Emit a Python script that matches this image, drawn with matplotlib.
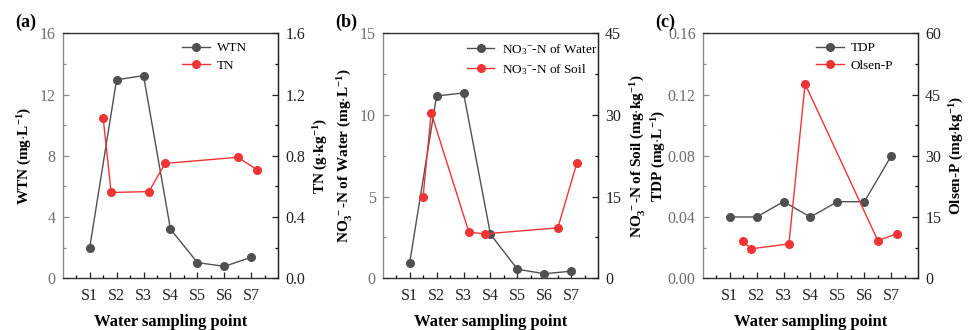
import matplotlib
matplotlib.use("Agg")
import matplotlib.pyplot as plt
from matplotlib.ticker import MultipleLocator, FixedLocator

plt.rcParams["font.family"] = ["Liberation Serif", "DejaVu Serif"]
plt.rcParams["mathtext.fontset"] = "custom"
plt.rcParams["mathtext.rm"] = "Liberation Serif"
plt.rcParams["mathtext.it"] = "Liberation Serif:italic"
plt.rcParams["mathtext.bf"] = "Liberation Serif:bold"

# Sampling sites (water) and soil sampling positions along the same transect
sites = ["S1", "S2", "S3", "S4", "S5", "S6", "S7"]
water_x = [1, 2, 3, 4, 5, 6, 7]
soil_x = [1.5, 1.8, 3.2, 3.8, 6.5, 7.2]

# (a) nitrogen
wtn = [1.96, 12.96, 13.24, 3.2, 1.02, 0.77, 1.37]
tn = [1.05, 0.56, 0.566, 0.75, 0.79, 0.71]

# (b) nitrate nitrogen
no3_water = [0.92, 11.16, 11.35, 2.69, 0.55, 0.27, 0.43]
no3_soil = [15.0, 30.4, 8.45, 8.15, 9.25, 21.1]

# (c) phosphorus
tdp = [0.04, 0.04, 0.05, 0.04, 0.05, 0.05, 0.08]
olsen_p = [9.0, 7.2, 8.4, 47.6, 9.2, 10.9]

GRAY = "#505050"
RED = "#ee3535"
SPINE_GRAY = "#8a8a8a"

panels = [
    dict(tag="(a)", left=wtn, right=tn, lname="WTN", rname="TN",
         llab=r"$\mathbf{WTN\ (mg{\cdot}L^{-1})}$",
         rlab=r"$\mathbf{TN\ (g{\cdot}kg^{-1})}$",
         lmax=16, lstep=4, lfmt="{:.0f}", rmax=1.6, rstep=0.4, rfmt="{:.1f}",
         legx=0.555, lpad=4),
    dict(tag="(b)", left=no3_water, right=no3_soil,
         lname=r"NO$_3$$^{-}$-N of Water", rname=r"NO$_3$$^{-}$-N of Soil",
         llab=r"$\mathbf{NO_3^{\ -}\text{-}N\ of\ Water\ (mg{\cdot}L^{-1})}$",
         rlab=r"$\mathbf{NO_3^{\ -}\text{-}N\ of\ Soil\ (mg{\cdot}kg^{-1})}$",
         lmax=15, lstep=5, lfmt="{:.0f}", rmax=45, rstep=15, rfmt="{:.0f}",
         legx=0.39, lpad=4),
    dict(tag="(c)", left=tdp, right=olsen_p, lname="TDP", rname="Olsen-P",
         llab=r"$\mathbf{TDP\ (mg{\cdot}L^{-1})}$",
         rlab=r"$\mathbf{Olsen\text{-}P\ (mg{\cdot}kg^{-1})}$",
         lmax=0.16, lstep=0.04, lfmt="{:.2f}", rmax=60, rstep=15, rfmt="{:.0f}",
         legx=0.525, lpad=0),
]

fig = plt.figure(figsize=(9.7, 3.3), dpi=100)
lefts = [0.0646, 0.3945, 0.7244]
W, B, H = 0.2223, 0.157, 0.742

for p, lx in zip(panels, lefts):
    ax = fig.add_axes([lx, B, W, H])
    ax2 = ax.twinx()

    l1, = ax.plot(water_x, p["left"], color=GRAY, lw=1.0, marker="o", ms=5.5,
                  label=p["lname"], zorder=3)
    l2, = ax2.plot(soil_x, p["right"], color=RED, lw=1.0, marker="o", ms=5.5,
                   label=p["rname"], zorder=3)

    ax.set_xlim(0, 8)
    ax.set_xticks(water_x)
    ax.set_xticklabels(sites)
    ax.xaxis.set_minor_locator(FixedLocator([0.5 + i for i in range(8)]))

    ax.set_ylim(0, p["lmax"])
    lt = [i * p["lstep"] for i in range(int(round(p["lmax"] / p["lstep"])) + 1)]
    ax.set_yticks(lt)
    ax.set_yticklabels([p["lfmt"].format(v) for v in lt])
    ax.yaxis.set_minor_locator(MultipleLocator(p["lstep"] / 2))

    ax2.set_ylim(0, p["rmax"])
    rt = [i * p["rstep"] for i in range(int(round(p["rmax"] / p["rstep"])) + 1)]
    ax2.set_yticks(rt)
    ax2.set_yticklabels([p["rfmt"].format(v) for v in rt])
    ax2.yaxis.set_minor_locator(MultipleLocator(p["rstep"] / 2))

    for a in (ax, ax2):
        a.tick_params(which="major", direction="in", length=4, width=0.9)
        a.tick_params(which="minor", direction="in", length=2.5, width=0.9)
    ax.tick_params(axis="x", labelsize=11.5, colors="#222222", pad=7)
    ax.tick_params(axis="y", labelsize=11.5, colors=SPINE_GRAY, labelcolor="#6e6e6e", pad=5)
    ax.tick_params(axis="y", which="minor", colors=SPINE_GRAY)
    ax2.tick_params(axis="y", labelsize=11.5, colors="#222222", pad=5)

    for s in ("top", "bottom"):
        ax.spines[s].set_color("#333333")
        ax.spines[s].set_linewidth(1.0)
    ax.spines["left"].set_color(SPINE_GRAY)
    ax.spines["left"].set_linewidth(1.0)
    ax2.spines["right"].set_color("#222222")
    ax2.spines["right"].set_linewidth(1.0)
    ax2.spines["left"].set_visible(False)
    ax2.spines["top"].set_visible(False)
    ax2.spines["bottom"].set_visible(False)

    ax.set_xlabel("Water sampling point", fontsize=12, fontweight="bold", labelpad=7)
    ax.set_ylabel(p["llab"], fontsize=11, labelpad=p["lpad"])
    ax2.set_ylabel(p["rlab"], fontsize=11, labelpad=5)

    ax.text(-0.22, 1.045, p["tag"], transform=ax.transAxes, fontsize=13,
            fontweight="bold", ha="left", va="center")

    ax2.legend([l1, l2], [p["lname"], p["rname"]], loc="upper left",
               bbox_to_anchor=(p["legx"], 0.965), frameon=False, fontsize=9.5,
               borderpad=0, borderaxespad=0, handlelength=2.1,
               handletextpad=0.55, labelspacing=0.4)

fig.savefig("out.png", dpi=100)
